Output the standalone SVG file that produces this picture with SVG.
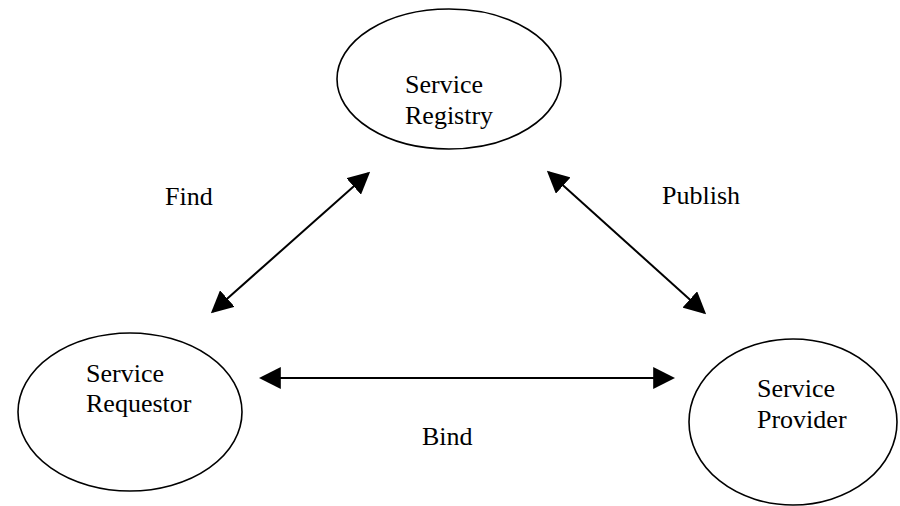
<svg xmlns="http://www.w3.org/2000/svg" width="900" height="506" viewBox="0 0 900 506">
<defs>
<style>
.node ellipse{fill:#fff;stroke:#000;stroke-width:1.6}
text{font-family:"Liberation Serif","Times New Roman",serif;font-size:26px;fill:#000}
.conn line{stroke:#000;stroke-width:2}
</style>
<marker id="ah" markerUnits="userSpaceOnUse" markerWidth="22" markerHeight="22" viewBox="0 0 20 20" refX="18" refY="10" orient="auto-start-reverse">
<path d="M0,0 L20,10 L0,20 z" fill="#000"/>
</marker>
</defs>
<rect width="900" height="506" fill="#fff"/>
<g id="registry" class="node">
<ellipse cx="449" cy="79" rx="112" ry="70"/>
<text x="405" y="93">Service</text>
<text x="405" y="124">Registry</text>
</g>
<g id="requestor" class="node">
<ellipse cx="130" cy="412" rx="112" ry="79"/>
<text x="86" y="382">Service</text>
<text x="86" y="412">Requestor</text>
</g>
<g id="provider" class="node">
<ellipse cx="793" cy="422" rx="104" ry="83"/>
<text x="757" y="397">Service</text>
<text x="757" y="428">Provider</text>
</g>
<g id="connectors" class="conn">
<line x1="212.5" y1="311.7" x2="368.5" y2="173.3" marker-start="url(#ah)" marker-end="url(#ah)"/>
<line x1="548.5" y1="172.3" x2="704.5" y2="312.7" marker-start="url(#ah)" marker-end="url(#ah)"/>
<line x1="261" y1="378" x2="673" y2="378" marker-start="url(#ah)" marker-end="url(#ah)"/>
</g>
<g id="labels">
<text x="165" y="205">Find</text>
<text x="662" y="204">Publish</text>
<text x="422" y="445">Bind</text>
</g>
</svg>
